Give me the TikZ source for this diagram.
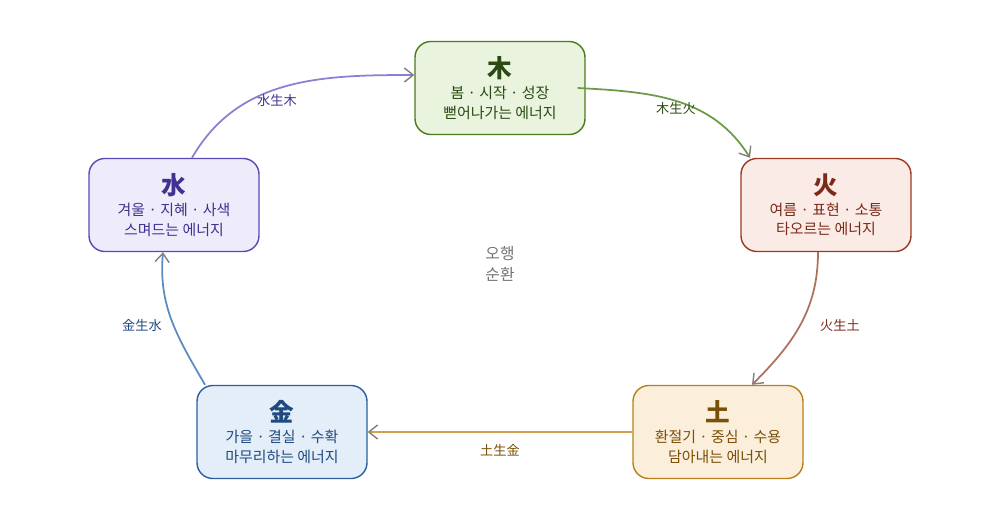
\documentclass[tikz,border=0pt]{standalone}
\usepackage{fontspec}
\setmainfont{Noto Sans CJK KR}
\usetikzlibrary{arrows.meta,positioning}
\definecolor{woodfill}{HTML}{E9F3DD}\definecolor{wooddraw}{HTML}{4A7A20}\definecolor{woodtext}{HTML}{2A4A12}\definecolor{woodline}{HTML}{6D9A4A}
\definecolor{firefill}{HTML}{FBEBE6}\definecolor{firedraw}{HTML}{9B3A22}\definecolor{firetext}{HTML}{7A2A18}\definecolor{fireline}{HTML}{B07060}
\definecolor{earthfill}{HTML}{FBEEDB}\definecolor{earthdraw}{HTML}{B8801C}\definecolor{earthtext}{HTML}{7A4F08}\definecolor{earthline}{HTML}{D4A050}
\definecolor{metalfill}{HTML}{E4EEF9}\definecolor{metaldraw}{HTML}{2A60A0}\definecolor{metaltext}{HTML}{1F4A80}\definecolor{metalline}{HTML}{5B8BC0}
\definecolor{waterfill}{HTML}{EEECFB}\definecolor{waterdraw}{HTML}{5A4AB8}\definecolor{watertext}{HTML}{3F3290}\definecolor{waterline}{HTML}{8A7FD4}
\tikzset{
  phase/.style={rectangle,rounded corners=9pt,minimum width=3.4cm,minimum height=1.86cm,line width=0.8pt,align=center,font=\fontsize{8.5}{11}\selectfont},
  flow/.style={line width=1pt,-{Straight Barb[length=5pt,width=8pt,line width=0.8pt,gray]}},
  flowlabel/.style={font=\fontsize{7.5}{9}\selectfont}
}
\begin{document}
\begin{tikzpicture}
\useasboundingbox (0,0) rectangle (20,10.58);
\node[phase,fill=woodfill,draw=wooddraw,text=woodtext] (wood) at (10,8.82) {{\fontsize{14}{16}\selectfont\bfseries 木}\\[1pt]봄 · 시작 · 성장\\뻗어나가는 에너지};
\node[phase,fill=firefill,draw=firedraw,text=firetext] (fire) at (16.52,6.48) {{\fontsize{14}{16}\selectfont\bfseries 火}\\[1pt]여름 · 표현 · 소통\\타오르는 에너지};
\node[phase,fill=earthfill,draw=earthdraw,text=earthtext] (earth) at (14.36,1.94) {{\fontsize{14}{16}\selectfont\bfseries 土}\\[1pt]환절기 · 중심 · 수용\\담아내는 에너지};
\node[phase,fill=metalfill,draw=metaldraw,text=metaltext] (metal) at (5.64,1.94) {{\fontsize{14}{16}\selectfont\bfseries 金}\\[1pt]가을 · 결실 · 수확\\마무리하는 에너지};
\node[phase,fill=waterfill,draw=waterdraw,text=watertext] (water) at (3.48,6.48) {{\fontsize{14}{16}\selectfont\bfseries 水}\\[1pt]겨울 · 지혜 · 사색\\스며드는 에너지};
\node[align=center,text=gray!90!black,font=\fontsize{9}{12}\selectfont] (cycle) at (10,5.3) {오행\\순환};
% sheng cycle
\draw[flow,waterline] ([xshift=0.36cm]water.north) to[out=60,in=180] ([yshift=0.26cm]wood.west);
\draw[flow,woodline] ([xshift=-0.16cm]wood.east) to[out=-3,in=122] ([xshift=-1.52cm]fire.north);
\draw[flow,fireline] ([xshift=-0.16cm]fire.south) to[out=-90,in=45] ([xshift=0.68cm]earth.north);
\draw[flow,earthline] (earth.west) -- (metal.east);
\draw[flow,metalline] ([xshift=-1.54cm]metal.north) to[out=120,in=-95] ([xshift=-0.22cm]water.south);
\node[flowlabel,text=watertext] (l1) at (5.54,8.58) {水生木};
\node[flowlabel,text=woodtext] (l2) at (13.52,8.42) {木生火};
\node[flowlabel,text=firetext] (l3) at (16.8,4.08) {火生土};
\node[flowlabel,text=earthtext] (l4) at (10,1.58) {土生金};
\node[flowlabel,text=metaltext] (l5) at (2.84,4.08) {金生水};
\end{tikzpicture}
\end{document}
